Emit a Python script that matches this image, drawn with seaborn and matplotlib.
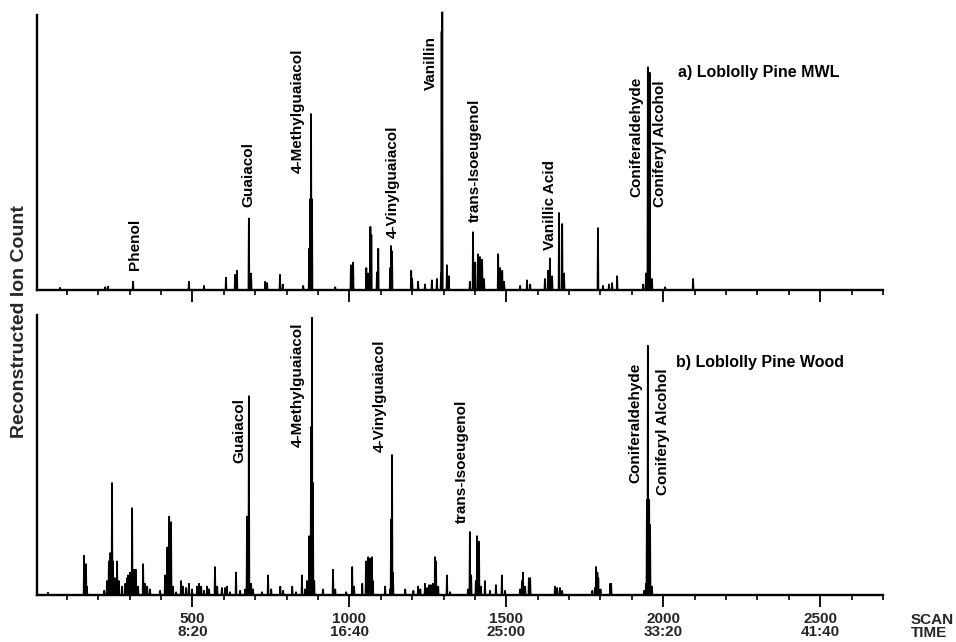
import numpy as np
import pandas as pd
import matplotlib
matplotlib.use("Agg")
import matplotlib.pyplot as plt
import seaborn as sns

# ---------------- data (scan number, relative ion count in % of panel) -------------
mwl_scan = [78, 222, 231, 311, 489, 537, 607, 636, 642, 680, 687, 732, 738, 779, 788,
            853, 872, 875, 878, 881, 955, 1005, 1012, 1054, 1060, 1067, 1070, 1088, 1092,
            1130, 1133, 1136, 1197, 1200, 1219, 1241, 1263, 1279, 1292, 1294, 1296, 1311,
            1317, 1384, 1394, 1401, 1410, 1416, 1423, 1429, 1474, 1480, 1487, 1493, 1544,
            1566, 1576, 1623, 1633, 1639, 1646, 1668, 1678, 1684, 1792, 1808, 1827, 1837,
            1853, 1936, 1945, 1951, 1957, 1964, 2006, 2095]
mwl_height = [0.8, 1.0, 1.2, 3, 3, 1.5, 4.5, 5.5, 7, 26, 6, 3, 2.5, 5.5, 2,
              1.5, 15, 33, 64, 33, 1, 9, 10, 8, 6, 23, 20, 6.5, 15,
              8, 16, 14, 7, 4, 3, 2, 3.5, 4, 6, 94, 101, 9,
              5, 3, 21, 10, 13, 12, 11, 4, 13, 8, 7, 3, 1.5,
              3.5, 2, 4, 7, 11.5, 5, 28, 24, 6, 22.5, 1.5, 2, 2.5,
              5, 2, 6, 81, 79, 4, 1, 4]

wood_scan = [40, 155, 161, 164, 219, 228, 234, 239, 244, 247, 253, 260, 266, 276, 286,
             292, 295, 301, 308, 314, 320, 327, 343, 349, 356, 365, 397, 413, 420, 426,
             432, 438, 448, 464, 470, 480, 489, 499, 515, 521, 528, 537, 547, 553, 572,
             579, 594, 604, 610, 620, 639, 652, 668, 674, 680, 687, 693, 722, 741, 751,
             780, 789, 818, 830, 849, 859, 865, 872, 878, 881, 884, 888, 916, 948, 955,
             990, 1009, 1015, 1041, 1053, 1060, 1066, 1072, 1075, 1114, 1130, 1133, 1136,
             1139, 1178, 1204, 1219, 1226, 1241, 1248, 1254, 1260, 1266, 1273, 1276, 1283,
             1311, 1321, 1378, 1384, 1388, 1403, 1407, 1413, 1419, 1432, 1448, 1467, 1486,
             1496, 1544, 1550, 1553, 1560, 1572, 1576, 1655, 1662, 1671, 1678, 1774, 1783,
             1786, 1790, 1793, 1800, 1831, 1834, 1939, 1945, 1948, 1951, 1955, 1958, 1964]
wood_height = [0.8, 14, 11, 3, 1.5, 5, 12, 15, 40, 12, 6, 12, 5, 3, 4,
               6, 7, 8, 31, 9, 9, 3, 11, 4, 3, 2, 1.5, 7, 17, 28,
               26, 3, 1, 5, 3, 2.5, 4, 2, 3, 4, 3, 1.5, 3, 2, 10,
               3, 2.5, 2.5, 3, 1, 8, 1.5, 2, 28, 71, 4, 2, 1, 7, 2,
               3, 1.5, 3, 1, 7, 2, 5, 21, 60, 99, 40, 5, 2, 9, 2,
               1, 10, 3, 4, 12, 13.5, 13, 13.5, 5, 3, 2, 27, 50,
               8, 2, 1.5, 3, 2, 4, 2.5, 3.5, 3.5, 4, 13.5, 12, 3,
               7, 1, 2, 22.5, 7, 5, 21, 19, 3, 5, 1.5, 3.5, 7,
               1.5, 2, 5, 8, 3, 6, 6, 3, 2.5, 2.5, 1.5, 1.5, 2.5,
               10, 8, 6, 2, 4, 4, 1.5, 4, 34, 89, 34, 25, 3]

tick_scans = [500, 1000, 1500, 2000, 2500]
tick_labels = ["500\n8:20", "1000\n16:40", "1500\n25:00", "2000\n33:20", "2500\n41:40"]

mwl_names = ["Phenol", "Guaiacol", "4-Methylguaiacol", "4-Vinylguaiacol", "Vanillin",
             "trans-Isoeugenol", "Vanillic Acid", "Coniferaldehyde", "Coniferyl Alcohol"]
wood_names = ["Guaiacol", "4-Methylguaiacol", "4-Vinylguaiacol", "trans-Isoeugenol",
              "Coniferaldehyde", "Coniferyl Alcohol"]
panel_titles = ["a) Loblolly Pine MWL", "b) Loblolly Pine Wood"]

# annotation layout (label centre scan, label bottom in % of panel)
mwl_label_pos = [(317, 7.3), (677, 30), (836, 42.5), (1139, 19), (1260, 72.7),
                 (1400, 24.7), (1639, 14.5), (1913, 33.8), (1990, 30)]
wood_label_pos = [(649, 47), (836, 53), (1098, 51), (1359, 25.7), (1910, 40), (1999, 35.7)]
title_pos = [(2047, 79), (2041, 83)]

XMIN, XMAX = 5, 2700

sns.set_style("ticks")
plt.rcParams["font.family"] = ["Liberation Sans", "DejaVu Sans"]
plt.rcParams["font.weight"] = "bold"


def trace(scans, heights, half=1.3):
    s = np.asarray(scans, float)
    h = np.asarray(heights, float)
    order = np.argsort(s)
    s, h = s[order], h[order]
    z = np.zeros_like(h)
    x = np.concatenate([[XMIN], np.column_stack([s - half, s, s + half]).ravel(), [XMAX]])
    y = np.concatenate([[0], np.column_stack([z, h, z]).ravel(), [0]])
    return pd.DataFrame({"scan": x, "count": y})


W, H = 956, 642
fig = plt.figure(figsize=(W / 100, H / 100), dpi=100)
ax_top = fig.add_axes([37 / W, 1 - 290 / H, (883 - 37) / W, (290 - 15) / H])
ax_bot = fig.add_axes([37 / W, 1 - 595 / H, (883 - 37) / W, (595 - 315) / H])

panels = [(ax_top, mwl_scan, mwl_height, mwl_names, mwl_label_pos),
          (ax_bot, wood_scan, wood_height, wood_names, wood_label_pos)]

for i, (ax, sc, ht, names, pos) in enumerate(panels):
    df = trace(sc, ht)
    sns.lineplot(data=df, x="scan", y="count", ax=ax, color="black", lw=1.3,
                 sort=False, estimator=None, clip_on=False)
    ax.set_xlim(XMIN, XMAX)
    ax.set_ylim(0, 100)
    ax.set_yticks([])
    ax.set_xticks(tick_scans)
    ax.set_xticks(range(100, XMAX + 1, 100), minor=True)
    ax.tick_params(axis="x", which="major", length=8.5, width=1.3, direction="out",
                   labelsize=11, pad=4, color="black")
    ax.tick_params(axis="x", which="minor", length=3.5, width=1.2, direction="out",
                   color="black")
    ax.set_xlabel("")
    ax.set_ylabel("")
    sns.despine(ax=ax)
    for sp in ("left", "bottom"):
        ax.spines[sp].set_linewidth(1.7)
        ax.spines[sp].set_color("black")
    if i == 0:
        ax.tick_params(labelbottom=False)
    else:
        ax.set_xticklabels(tick_labels, fontweight="bold", linespacing=0.92)
    for name, (xs, yb) in zip(names, pos):
        ax.text(xs, yb, name, rotation=90, ha="center", va="bottom",
                fontsize=11, fontweight="bold", color="black")
    ax.text(title_pos[i][0], title_pos[i][1], panel_titles[i], ha="left", va="center",
            fontsize=11.5, fontweight="bold", color="black")

fig.text(911 / W, 1 - 613 / H, "SCAN\nTIME", ha="left", va="top", fontsize=11,
         fontweight="bold", linespacing=0.92)
fig.text(20 / W, 1 - 322 / H, "Reconstructed Ion Count", rotation=90, ha="center",
         va="center", fontsize=14, fontweight="bold")

fig.savefig("out.png", dpi=100)
